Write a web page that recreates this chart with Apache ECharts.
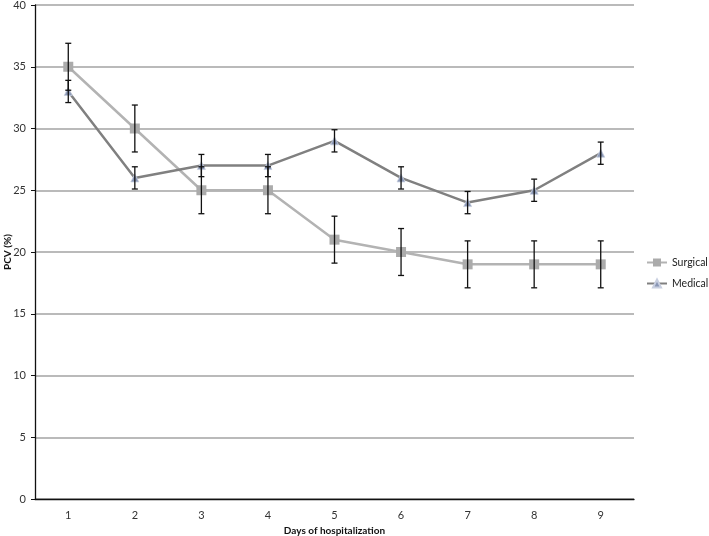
<!DOCTYPE html>
<html>
<head>
<meta charset="utf-8">
<script src="https://cdn.jsdelivr.net/npm/echarts@6/dist/echarts.min.js"></script>
<style>
  html, body { margin: 0; padding: 0; background: #fff; }
  #main { width: 709px; height: 536px; }
</style>
</head>
<body>
<div id="main"></div>
<script>
// 数据
const days = ['1', '2', '3', '4', '5', '6', '7', '8', '9'];
const surgical = [35, 30, 25, 25, 21, 20, 19, 19, 19];
const surgicalErr = [1.9, 1.9, 1.9, 1.9, 1.9, 1.9, 1.9, 1.9, 1.9];
const medical = [33, 26, 27, 27, 29, 26, 24, 25, 28];
const medicalErr = [0.9, 0.9, 0.9, 0.9, 0.9, 0.9, 0.9, 0.9, 0.9];

const font = 'Lato';

// 误差线
let errorSeries = (vals, errs, z) => ({
    type: 'custom',
    z: z,
    silent: true,
    data: vals.map((v, i) => [i, v - errs[i], v + errs[i]]),
    renderItem: (params, api) => {
        let lo = api.coord([api.value(0), api.value(1)]);
        let hi = api.coord([api.value(0), api.value(2)]);
        let w = 3;
        let style = { stroke: '#111', lineWidth: 1.3 };
        return {
            type: 'group',
            children: [
                { type: 'line', shape: { x1: lo[0], y1: lo[1], x2: hi[0], y2: hi[1] }, style: style },
                { type: 'line', shape: { x1: lo[0] - w, y1: lo[1], x2: lo[0] + w, y2: lo[1] }, style: style },
                { type: 'line', shape: { x1: hi[0] - w, y1: hi[1], x2: hi[0] + w, y2: hi[1] }, style: style }
            ]
        };
    }
});

let chart = echarts.init(document.getElementById('main'));
let option = {
    animation: false,
    grid: { left: 35, right: 75, top: 5, bottom: 37, outerBoundsMode: 'none', containLabel: false },
    legend: {
        orient: 'vertical',
        left: 646,
        top: 257,
        padding: 0,
        itemWidth: 20,
        itemHeight: 10,
        itemGap: 10,
        textStyle: { fontFamily: font, fontSize: 10.5, color: '#222' },
        data: ['Surgical', 'Medical']
    },
    xAxis: {
        type: 'category',
        data: days,
        name: 'Days of hospitalization',
        nameLocation: 'middle',
        nameGap: 24,
        nameTextStyle: { fontFamily: font, fontSize: 10, fontWeight: 'bold', color: '#111' },
        axisLine: { lineStyle: { color: '#111', width: 1.3 } },
        axisTick: { length: 4, lineStyle: { color: '#111' } },
        axisLabel: { fontFamily: font, fontSize: 11, color: '#333', margin: 11 }
    },
    yAxis: {
        type: 'value',
        min: 0,
        max: 40,
        interval: 5,
        name: 'PCV (%)',
        nameLocation: 'middle',
        nameGap: 22,
        nameMoveOverlap: false,
        nameTextStyle: { fontFamily: font, fontSize: 10, fontWeight: 'bold', color: '#111' },
        axisLine: { show: true, lineStyle: { color: '#111', width: 1.3 } },
        axisTick: { show: true, length: 4, lineStyle: { color: '#111' } },
        axisLabel: { fontFamily: font, fontSize: 11, color: '#333', margin: 9 },
        splitLine: { lineStyle: { color: '#a3a3a3', width: 1.5 } }
    },
    series: [
        {
            name: 'Surgical',
            type: 'line',
            data: surgical,
            symbol: 'rect',
            symbolSize: 10,
            z: 3,
            lineStyle: { color: '#b3b3b3', width: 2.5 },
            itemStyle: { color: '#ababab' }
        },
        {
            name: 'Medical',
            type: 'line',
            data: medical,
            symbol: 'triangle',
            symbolSize: 8,
            z: 3,
            lineStyle: { color: '#808080', width: 2.5 },
            itemStyle: { color: '#8a97b5', borderColor: '#c8cfe0', borderWidth: 0.8 }
        },
        errorSeries(surgical, surgicalErr, 4),
        errorSeries(medical, medicalErr, 4)
    ]
};
chart.setOption(option);
</script>
</body>
</html>
